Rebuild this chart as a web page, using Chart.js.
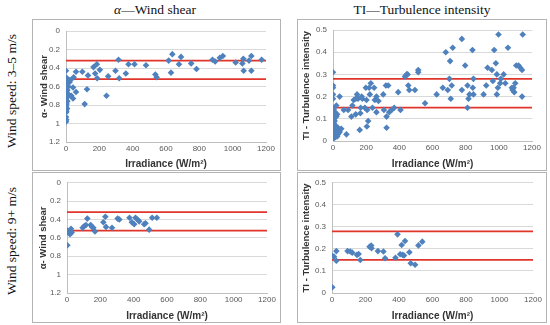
<!DOCTYPE html>
<html>
<head>
<meta charset="utf-8">
<script src="https://cdn.jsdelivr.net/npm/chart.js@4"></script>
<style>
  html, body { margin: 0; padding: 0; background: #fff; }
  body { width: 550px; height: 325px; position: relative; overflow: hidden; }
  .box { position: absolute; border: 1px solid #b4b4b4; box-sizing: border-box; }
  canvas { position: absolute; }
  .title { position: absolute; font-family: "Liberation Serif", "DejaVu Serif", serif; font-size: 13.5px; color: #111; white-space: nowrap; transform: translate(-50%, -50%); }
  .row { position: absolute; font-family: "Liberation Serif", "DejaVu Serif", serif; font-size: 13.5px; color: #111; white-space: nowrap; transform: translate(-50%, -50%) rotate(-90deg); }
</style>
</head>
<body>
<div class="title" style="left:155px; top:10px;"><i>α</i>—Wind shear</div>
<div class="title" style="left:422px; top:10px;">TI—Turbulence intensity</div>
<div class="row" style="left:12px; top:91px;">Wind speed: 3–5 m/s</div>
<div class="row" style="left:12px; top:241px;">Wind speed: 9+ m/s</div>

<div class="box" style="left:32px; top:19px; width:249px; height:152px;"></div>
<div class="box" style="left:297px; top:19px; width:250px; height:152px;"></div>
<div class="box" style="left:32px; top:172px; width:249px; height:151px;"></div>
<div class="box" style="left:297px; top:172px; width:250px; height:151px;"></div>

<canvas id="c1"></canvas>
<canvas id="c2"></canvas>
<canvas id="c3"></canvas>
<canvas id="c4"></canvas>

<script>
// ---------- Data ----------
// Wind shear thresholds and TI thresholds (red lines)
const shearLimits = [0.32, 0.52];
const tiLimits = [0.28, 0.15];
const xTicksRange = [0, 1200];

// Panel 1: wind speed 3-5 m/s, wind shear  [irradiance, alpha]
const shearLowIrr = [0,0,2,0,4,0,2,0,3,0,2,0,3,0,2,0,3,0,2,0,2,0,0,2,0,8,10,6,8,10,6,12,14,8,6,18,16,22,
  26,42,16,32,42,60,46,60,98,112,126,132,165,175,185,187,203,243,253,297,315,319,359,375,411,480,536,544,
  616,630,638,678,690,751,783,879,895,923,941,1018,1058,1064,1066,1098,1112,1112,1174];
const shearLowVal = [0.43,0.50,0.52,0.54,0.55,0.57,0.59,0.61,0.63,0.65,0.67,0.69,0.71,0.73,0.75,0.77,0.79,0.81,0.83,0.85,0.87,0.88,0.93,0.96,0.98,0.52,0.56,0.60,0.64,0.68,0.72,0.54,0.60,0.76,0.84,0.53,0.69,0.55,
  0.53,0.61,0.69,0.70,0.73,0.66,0.50,0.44,0.44,0.79,0.63,0.48,0.39,0.46,0.36,0.51,0.42,0.70,0.49,0.43,0.31,0.51,0.46,0.36,0.36,0.37,0.47,0.50,
  0.32,0.45,0.25,0.36,0.28,0.35,0.41,0.31,0.33,0.29,0.27,0.34,0.35,0.30,0.43,0.32,0.27,0.43,0.31];

// Panel 2: wind speed 3-5 m/s, turbulence intensity  [irradiance, TI]
const tiLowIrr = [0,0,0,0,0,0,0,0,0,0,0,0,0,0,0,0,0,0,0,0,
  5,5,5,5,5,5,5,10,10,10,10,10,15,15,15,15,20,20,20,20,25,25,25,30,30,40,40,50,
  65,81,91,111,117,125,137,137,145,151,161,165,167,173,177,192,198,202,204,206,212,218,222,228,238,248,252,262,262,274,
  303,307,319,323,323,333,339,353,369,393,407,434,444,450,454,460,494,514,514,555,625,662,680,692,706,702,710,716,722,
  777,777,797,811,811,817,823,841,843,847,847,908,924,932,958,964,972,982,988,988,994,998,1008,1012,1029,1039,1055,
  1079,1083,1089,1093,1099,1105,1119,1129,1140,1140,1144];
const tiLowVal = [0.31,0.25,0.24,0.21,0.19,0.15,0.14,0.13,0.12,0.11,0.10,0.09,0.08,0.07,0.06,0.05,0.04,0.03,0.02,0.01,
  0.14,0.12,0.10,0.08,0.06,0.04,0.02,0.13,0.09,0.05,0.03,0.015,0.12,0.07,0.04,0.02,0.16,0.11,0.05,0.03,0.12,0.04,0.02,0.06,0.03,0.20,0.04,0.055,
  0.14,0.03,0.14,0.11,0.16,0.185,0.19,0.12,0.21,0.19,0.05,0.125,0.15,0.20,0.19,0.15,0.24,0.185,0.065,0.14,0.09,0.24,0.21,0.26,0.15,0.24,0.185,0.20,0.13,0.18,
  0.21,0.14,0.25,0.06,0.11,0.25,0.13,0.14,0.15,0.22,0.14,0.29,0.30,0.30,0.25,0.23,0.23,0.32,0.31,0.17,0.21,0.24,0.40,0.23,0.36,0.28,0.19,0.25,0.42,
  0.46,0.23,0.34,0.25,0.15,0.19,0.21,0.41,0.24,0.28,0.21,0.21,0.25,0.33,0.32,0.27,0.41,0.35,0.21,0.30,0.24,0.48,0.26,0.28,0.30,0.26,0.42,
  0.24,0.23,0.24,0.22,0.26,0.34,0.34,0.33,0.32,0.20,0.48];

// Panel 3: wind speed 9+ m/s, wind shear
const shearHighIrr = [0,2,8,18,28,18,24,94,104,114,122,142,150,158,168,218,230,234,270,304,314,375,389,403,411,423,433,463,471,493,511,539];
const shearHighVal = [0.52,0.68,0.54,0.52,0.54,0.56,0.50,0.49,0.47,0.46,0.39,0.46,0.48,0.49,0.53,0.43,0.37,0.48,0.49,0.39,0.40,0.38,0.43,0.45,0.38,0.40,0.42,0.45,0.44,0.51,0.38,0.38];

// Panel 4: wind speed 9+ m/s, turbulence intensity
const tiHighIrr = [2,0,12,26,26,93,109,121,149,159,169,224,234,236,274,307,317,379,391,407,416,422,430,436,462,470,496,516,539];
const tiHighVal = [0.026,0.17,0.165,0.146,0.19,0.19,0.188,0.183,0.173,0.177,0.15,0.21,0.215,0.203,0.19,0.188,0.158,0.16,0.266,0.176,0.218,0.173,0.17,0.236,0.185,0.135,0.128,0.216,0.233];

// ---------- Chart construction ----------
const FONT = '"Liberation Sans", Arial, sans-serif';
const BLUE = '#4f81bd';
const RED = '#e0352b';

function pts(xs, ys) { return xs.map((x, i) => ({ x: x, y: ys[i] })); }
function hline(v) { return [{ x: xTicksRange[0], y: v }, { x: xTicksRange[1], y: v }]; }

function makePanel(id, box, plot, cfg) {
  const cv = document.getElementById(id);
  const W = box.r - box.l, H = box.b - box.t;
  cv.width = W; cv.height = H;
  cv.style.left = box.l + 'px'; cv.style.top = box.t + 'px';
  cv.style.width = W + 'px'; cv.style.height = H + 'px';
  const yW = plot.l - box.l, xH = box.b - plot.b;
  const datasets = [{
    type: 'scatter', data: pts(cfg.xs, cfg.ys), pointStyle: 'rectRot', pointRadius: 3.3,
    backgroundColor: BLUE, borderColor: BLUE, borderWidth: 0
  }];
  cfg.limits.forEach(v => datasets.push({
    type: 'line', data: hline(v), borderColor: RED, borderWidth: 1.8, pointRadius: 0, fill: false
  }));
  new Chart(cv, {
    type: 'scatter',
    data: { datasets },
    options: {
      responsive: false, animation: false, devicePixelRatio: 1,
      layout: { padding: { top: plot.t - box.t, right: box.r - plot.r, left: 0, bottom: 0 } },
      plugins: { legend: { display: false }, tooltip: { enabled: false } },
      scales: {
        x: {
          type: 'linear', min: xTicksRange[0], max: xTicksRange[1],
          ticks: { stepSize: 200, font: { family: FONT, size: 8 }, color: '#595959', padding: 2, maxRotation: 0,
                   callback: v => String(v) },
          grid: { display: false, drawTicks: false },
          border: { display: true, color: '#bfbfbf' },
          title: { display: true, text: 'Irradiance (W/m²)', font: { family: FONT, size: 10, weight: 'bold' }, color: '#333', padding: { top: 0, bottom: 1 } },
          afterFit: s => { s.height = xH; }
        },
        y: {
          type: 'linear', min: cfg.ymin, max: cfg.ymax, reverse: cfg.reverse,
          ticks: { stepSize: cfg.step, font: { family: FONT, size: 8 }, color: '#595959', padding: 6,
                   callback: v => String(+v.toFixed(1)) },
          grid: { color: '#d9d9d9', drawTicks: false },
          border: { display: true, color: '#bfbfbf' },
          title: { display: true, text: cfg.ytitle, font: { family: FONT, size: 9.5, weight: 'bold' }, color: '#333', padding: { top: cfg.ytpad, bottom: 0 } },
          afterFit: s => { s.width = yW; }
        }
      }
    }
  });
}

makePanel('c1', { l: 32, t: 19, r: 281, b: 171 }, { l: 66, t: 31, r: 266, b: 142 },
  { xs: shearLowIrr, ys: shearLowVal, limits: shearLimits, ymin: 0, ymax: 1.2, step: 0.2, reverse: true, ytitle: 'α- Wind shear', ytpad: 7 });
makePanel('c2', { l: 297, t: 19, r: 547, b: 171 }, { l: 333, t: 30, r: 532, b: 141 },
  { xs: tiLowIrr, ys: tiLowVal, limits: tiLimits, ymin: 0, ymax: 0.5, step: 0.1, reverse: false, ytitle: 'TI - Turbulence intensity', ytpad: 4 });
makePanel('c3', { l: 32, t: 172, r: 281, b: 323 }, { l: 67, t: 182, r: 267, b: 293 },
  { xs: shearHighIrr, ys: shearHighVal, limits: shearLimits, ymin: 0, ymax: 1.2, step: 0.2, reverse: true, ytitle: 'α- Wind shear', ytpad: 6 });
makePanel('c4', { l: 297, t: 172, r: 547, b: 323 }, { l: 332, t: 182, r: 533, b: 293 },
  { xs: tiHighIrr, ys: tiHighVal, limits: tiLimits, ymin: 0, ymax: 0.5, step: 0.1, reverse: false, ytitle: 'TI - Turbulence intensity', ytpad: 4 });
</script>
</body>
</html>
